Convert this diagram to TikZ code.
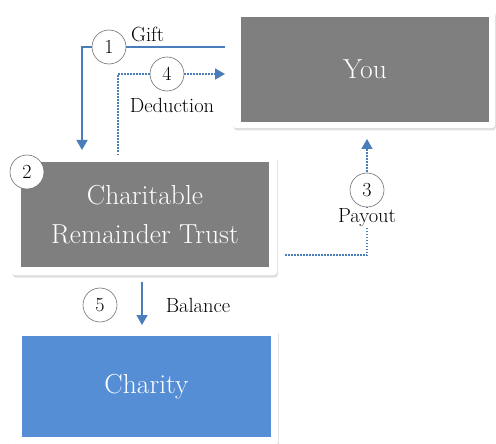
\documentclass[tikz,border=0pt]{standalone}
\usepackage{fontspec}
\setmainfont{Latin Modern Roman}
\usetikzlibrary{arrows.meta,shadows,positioning}
\definecolor{boxgray}{HTML}{7F7F7F}
\definecolor{charblue}{HTML}{558ED5}
\definecolor{linkblue}{HTML}{4A7EBB}
\definecolor{ringgray}{HTML}{707070}
\tikzset{
  frame/.style={fill=white, rounded corners=3pt, inner sep=0pt,
    drop shadow={opacity=0.25, shadow xshift=0.8pt, shadow yshift=-2.5pt}},
  inbox/.style={inner sep=0pt, text=white, align=center,
    font=\fontsize{27.5}{39}\selectfont},
  numring/.style={circle, draw=ringgray, line width=0.6pt, fill=white,
    minimum size=34pt, inner sep=0pt, font=\fontsize{20}{22}\selectfont},
  lbl/.style={inner sep=1pt, font=\fontsize{20.5}{22}\selectfont},
  flow/.style={draw=linkblue, line width=1.5pt, -{Triangle[width=11pt,length=10pt]}},
  dotflow/.style={draw=linkblue, line width=1.5pt, dash pattern=on 1.5pt off 1.5pt,
    -{Triangle[width=11pt,length=10pt]}},
}
\begin{document}
\begin{tikzpicture}[x=1pt,y=-1pt]
\useasboundingbox (0,0) rectangle (496,444);
% frames
\node[frame, minimum width=262pt, minimum height=118pt] (youF) at (364,69) {};
\node[frame, minimum width=265pt, minimum height=120pt] (crtF) at (144.5,215) {};
\node[frame, minimum width=263pt, minimum height=116pt] (chF) at (146.5,387) {};
% inner boxes
\node[inbox, fill=boxgray, minimum width=248pt, minimum height=105pt] (you) at (365,69.5) {You};
\node[inbox, fill=boxgray, minimum width=248pt, minimum height=105pt] (crt) at (145,214.5) {Charitable\\Remainder Trust};
\node[inbox, fill=charblue, minimum width=249pt, minimum height=101pt] (ch) at (146.5,386.5) {Charity};
% coordinates
\coordinate (g1) at (225,47);
\coordinate (g2) at (82,47);
\coordinate (g3) at (82,150);
\coordinate (d1) at (118,155);
\coordinate (d2) at (118,74);
\coordinate (d3) at (225,74);
\coordinate (p1) at (285,255);
\coordinate (p2) at (367,255);
\coordinate (p3) at (367,139);
\coordinate (b1) at (142,282);
\coordinate (b2) at (142,325);
% connectors
\draw[flow] (g1) -- (g2) -- (g3);
\draw[dotflow] (d1) -- (d2) -- (d3);
\draw[dotflow] (p1) -- (p2) -- (p3);
\draw[flow] (b1) -- (b2);
% rings and labels
\node[numring] (n1) at (109,47) {1};
\node[lbl, anchor=base west] (lgift) at (130,42) {Gift};
\node[numring] (n4) at (167,74) {4};
\node[lbl, fill=white] (lded) at (172,105) {Deduction};
\node[numring] (n2) at (27,172) {2};
\node[numring] (n3) at (367,190) {3};
\node[lbl, fill=white] (lpay) at (367,218) {Payout};
\node[numring] (n5) at (100,305) {5};
\node[lbl] (lbal) at (198,305) {Balance};
\end{tikzpicture}
\end{document}
